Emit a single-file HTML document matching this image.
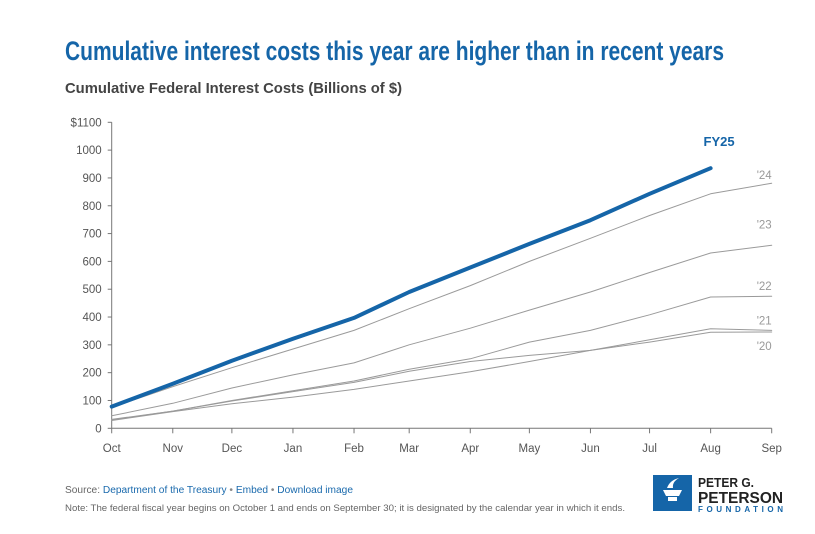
<!DOCTYPE html>
<html><head><meta charset="utf-8"><style>
body{margin:0;background:#fff;width:815px;height:534px;overflow:hidden}
svg{display:block;font-family:"Liberation Sans",sans-serif}
</style></head><body>
<svg id="chart" width="815" height="534" viewBox="0 0 815 534">
<text x="65" y="60" font-family="Liberation Sans Narrow, Liberation Sans, sans-serif" font-weight="bold" font-size="27" fill="#1565a8" textLength="659" lengthAdjust="spacingAndGlyphs">Cumulative interest costs this year are higher than in recent years</text>
<text x="65" y="93" font-weight="bold" font-size="15" fill="#444" textLength="337" lengthAdjust="spacingAndGlyphs">Cumulative Federal Interest Costs (Billions of $)</text>
<g id="axes"></g>
<g id="series"></g>
<g id="footer">
<text x="65" y="493" font-size="10" fill="#666" textLength="288" lengthAdjust="spacingAndGlyphs">Source: <tspan fill="#1a6aad">Department of the Treasury</tspan> <tspan fill="#888">•</tspan> <tspan fill="#1a6aad">Embed</tspan> <tspan fill="#888">•</tspan> <tspan fill="#1a6aad">Download image</tspan></text>
<text x="65" y="511" font-size="9.5" fill="#666" textLength="560" lengthAdjust="spacingAndGlyphs">Note: The federal fiscal year begins on October 1 and ends on September 30; it is designated by the calendar year in which it ends.</text>
<g>
<rect x="653" y="475" width="39" height="36" fill="#1565a8"/>
<path d="M663 490 h19 l-3 6 h-13 z M668 497 h9 v4 h-9 z M667 488 q3 -8 12 -10 q-7 4 -6 10 z" fill="#fff"/>
<text x="698" y="487" font-family="Liberation Sans Narrow, Liberation Sans, sans-serif" font-weight="bold" font-size="13" fill="#222" textLength="56" lengthAdjust="spacingAndGlyphs">PETER G.</text>
<text x="698" y="503" font-family="Liberation Sans Narrow, Liberation Sans, sans-serif" font-weight="bold" font-size="16" fill="#222" textLength="85" lengthAdjust="spacingAndGlyphs">PETERSON</text>
<text x="698" y="512" font-weight="bold" font-size="8" fill="#1565a8" textLength="85" lengthAdjust="spacing">FOUNDATION</text>
</g>
</g>
</svg>
<script>
const months = ["Oct","Nov","Dec","Jan","Feb","Mar","Apr","May","Jun","Jul","Aug","Sep"];
const monthDays = [0,31,61,92,123,151,182,212,243,273,304,335];
const yTicks = [0,100,200,300,400,500,600,700,800,900,1000,1100];
const fy25 = [78,160,243,322,397,490,578,663,748,843,935];
const fy24 = [75,150,218,285,352,430,513,600,683,765,843,881];
const fy23 = [45,90,145,192,235,300,360,425,490,560,630,658];
const fy22 = [32,62,100,135,170,212,250,310,352,408,472,475];
const fy21 = [30,62,98,132,165,205,240,262,280,318,358,352];
const fy20 = [28,60,88,112,140,170,203,240,280,310,345,346];
const NS="http://www.w3.org/2000/svg";
const x0=111.7,x1=771.7,y0=428.3,y1=122.3;
const xs=d=>x0+(d/335)*(x1-x0);
const ys=v=>y0-(v/1100)*(y0-y1);
function mk(t,a,p){const e=document.createElementNS(NS,t);for(const k in a)e.setAttribute(k,a[k]);p.appendChild(e);return e;}
const ax=document.getElementById('axes'),sr=document.getElementById('series');
const yl=mk('line',{x1:x0,x2:x0,y1:y1,y2:y0,stroke:'#777','stroke-width':1},ax);


const xl=mk('line',{x1:x0,x2:x1,y1:y0,y2:y0,stroke:'#777','stroke-width':1},ax);


yTicks.forEach((v,i)=>{
 mk('line',{x1:x0-4,x2:x0,y1:ys(v),y2:ys(v),stroke:'#777'},ax);
 const t=mk('text',{x:x0-10,y:ys(v)+4,'text-anchor':'end','font-size':11.5,fill:'#555'},ax);
 t.textContent=(i===yTicks.length-1?'$':'')+v;
 
 
});
months.forEach((m,i)=>{
 const x=xs(monthDays[i]);
 mk('line',{x1:x,x2:x,y1:y0,y2:y0+5,stroke:'#777'},ax);
 const t=mk('text',{x:x,y:452,'text-anchor':'middle','font-size':11.5,fill:'#555'},ax);
 t.textContent=m;
 
 
});
function line(data,color,w,name){
 const pts=data.map((v,i)=>xs(monthDays[i]).toFixed(1)+','+ys(v).toFixed(1)).join(' ');
 const p=mk('polyline',{points:pts,fill:'none',stroke:color,'stroke-width':w,'stroke-linejoin':'round','stroke-linecap':'round'},sr);
 
 
}
function label(txt,data,dy,color,name,bold,dx){
 const i=data.length-1;
 const t=mk('text',{x:xs(monthDays[i])+(dx||0),y:ys(data[i])+dy,'text-anchor':'end','font-size':bold?13:11.5,'font-weight':bold?'bold':'normal',fill:color},sr);
 t.textContent=txt;
 
 
}
[[fy20,'line-fy20'],[fy21,'line-fy21'],[fy22,'line-fy22'],[fy23,'line-fy23'],[fy24,'line-fy24']].forEach(([d,n])=>line(d,'#9a9a9a',1,n));
line(fy25,'#1565a8',4,'line-fy25');
label('FY25',fy25,-22,'#1565a8','label-fy25',true,24);
label("'24",fy24,-4,'#999','label-fy24');
label("'23",fy23,-17,'#999','label-fy23');
label("'22",fy22,-6,'#999','label-fy22');
label("'21",fy21,-6,'#999','label-fy21');
label("'20",fy20,18,'#999','label-fy20');
</script>
</body></html>
